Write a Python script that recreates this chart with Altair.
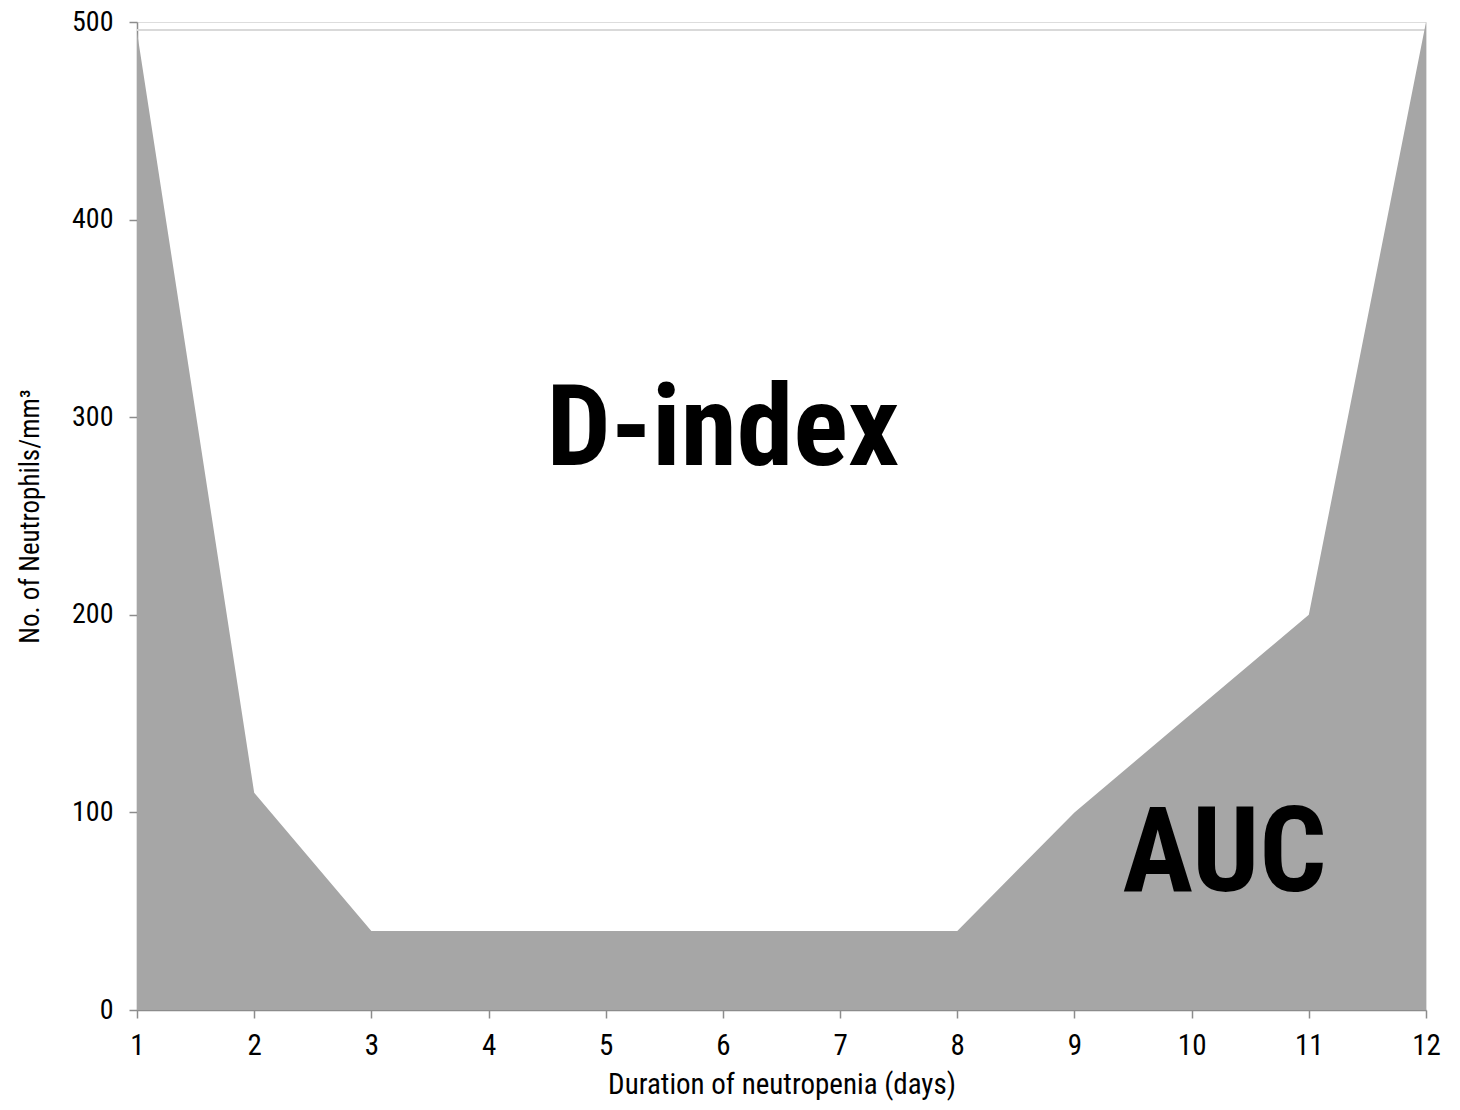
import altair as alt
import pandas as pd

days = [1, 2, 3, 4, 5, 6, 7, 8, 9, 10, 11, 12]
neutrophils = [495, 110, 40, 40, 40, 40, 40, 40, 100, 150, 200, 500]

label_text = ["D-index", "AUC"]
label_x = [6.0, 10.28]
label_y = [293, 78]
label_size = [114, 118]

top_line = [496]

FONT = "Liberation Sans Narrow, Roboto Condensed, Liberation Sans"

df = pd.DataFrame({"day": days, "n": neutrophils})
lab = pd.DataFrame({"t": label_text, "x": label_x, "y": label_y, "s": label_size})
top = pd.DataFrame({"y": top_line})

xscale = alt.Scale(domain=[1, 12], nice=False, zero=False)
yscale = alt.Scale(domain=[0, 500], nice=False)

area = alt.Chart(df).mark_area(color="#a6a6a6", opacity=1).encode(
    x=alt.X("day:Q", scale=xscale,
            axis=alt.Axis(values=days, format="d", title="Duration of neutropenia (days)",
                          grid=False, domainColor="#8c8c8c", tickColor="#8c8c8c",
                          tickSize=8, domainWidth=1.5, tickWidth=1.5,
                          labelFontSize=29, labelFont=FONT, labelColor="black",
                          labelPadding=13, titleFont=FONT, titleFontSize=29,
                          titleFontWeight="normal", titleColor="black", titlePadding=10,
                          labelFlush=False)),
    y=alt.Y("n:Q", scale=yscale,
            axis=alt.Axis(values=[0, 100, 200, 300, 400, 500], format="d",
                          title="No. of Neutrophils/mm³",
                          grid=False, domainColor="#8c8c8c", tickColor="#8c8c8c",
                          tickSize=8, domainWidth=1.5, tickWidth=1.5,
                          labelFontSize=28, labelFont=FONT, labelColor="black",
                          labelPadding=16, titleFont=FONT, titleFontSize=27,
                          titleFontWeight="normal", titleColor="black", titlePadding=27,
                          labelFlush=False)),
)

rule = alt.Chart(top).mark_rule(color="#d9d9d9", strokeWidth=2).encode(
    y=alt.Y("y:Q", scale=yscale),
    x=alt.value(0), x2=alt.value(1289),
)

text = alt.Chart(lab).mark_text(font=FONT, fontWeight="bold",
                                color="black", baseline="middle", align="center").encode(
    x=alt.X("x:Q", scale=xscale),
    y=alt.Y("y:Q", scale=yscale),
    text="t:N",
    size=alt.Size("s:Q", scale=None, legend=None),
)

chart = alt.layer(rule, area, text).properties(
    width=1289, height=988,
    autosize=alt.AutoSizeParams(type="none"),
    padding={"left": 129, "top": 14, "right": 20, "bottom": 92},
).configure_view(stroke=None).configure(background="white")

chart.save("out.html", embed_options={"renderer": "svg", "actions": False})
